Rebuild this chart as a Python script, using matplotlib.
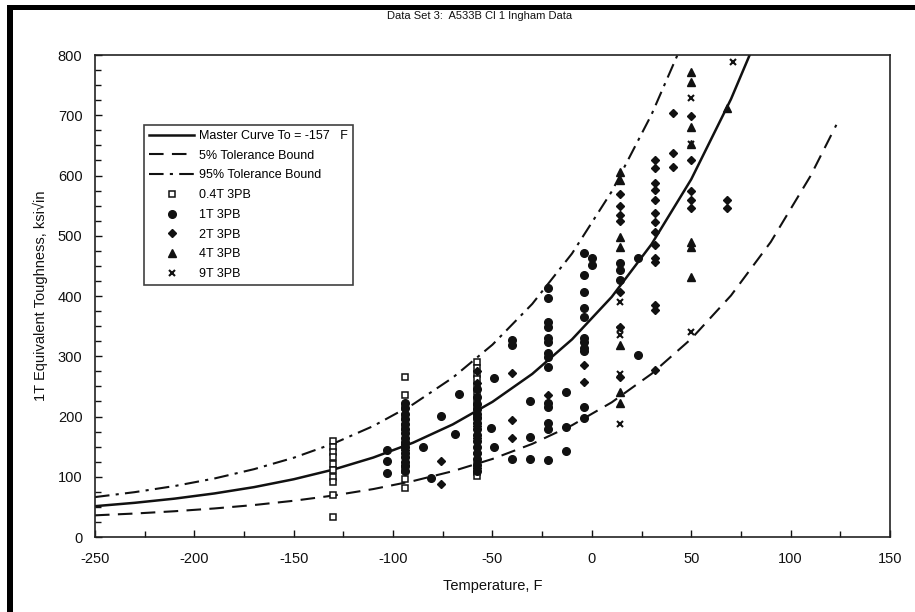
import numpy as np
import matplotlib
matplotlib.use("Agg")
from matplotlib import pyplot as plt
from matplotlib.patches import Rectangle
from matplotlib.ticker import MultipleLocator

plt.rcParams['font.family'] = ['Liberation Sans', 'DejaVu Sans']
plt.rcParams['axes.unicode_minus'] = False

#################
# curve readings #
#################
t_curve = [-250, -230, -210, -190, -170, -150, -130, -110, -90, -70, -50, -30, -10, 10, 30, 50, 70, 80]
k_median = [51.2, 56.8, 63.7, 72.3, 82.8, 95.9, 112.0, 131.9, 156.5, 186.9, 224.4, 270.7, 328.0, 398.6, 485.9, 593.8, 726.9, 804.8]

t_low = [-250, -230, -210, -190, -170, -150, -130, -110, -90, -70, -50, -30, -10, 10, 30, 50, 70, 90, 110, 123]
k_low = [36.0, 39.0, 42.8, 47.4, 53.1, 60.2, 68.9, 79.6, 92.9, 109.3, 129.6, 154.6, 185.5, 223.6, 270.8, 329.0, 400.9, 489.7, 599.3, 684.1]

t_high = [-250, -230, -210, -190, -170, -150, -130, -110, -90, -70, -50, -30, -10, 10, 30, 43]
k_high = [66.3, 74.5, 84.6, 97.1, 112.6, 131.6, 155.2, 184.2, 220.2, 264.5, 319.3, 386.9, 470.5, 573.6, 701.1, 799.6]

###############
# test points #
###############
# 0.4T 3PB
t_04 = [-130]*10 + [-94]*9 + [-58]*12
k_04 = [160, 150, 141, 133, 122, 111, 100, 92, 70, 34,
        266, 235, 216, 200, 183, 150, 111, 97, 81,
        290, 280, 270, 262, 250, 240, 228, 215, 200, 120, 108, 102]

# 1T 3PB
t_1t = ([-103]*3 + [-94]*15 + [-85, -81, -76, -69, -67] + [-58]*15 + [-51, -49, -49]
        + [-40]*3 + [-31]*3 + [-22]*14 + [-13]*3 + [-4]*11 + [0, 0] + [14]*3 + [23, 23])
k_1t = [144, 127, 107,
        222, 214, 205, 196, 188, 180, 172, 165, 158, 150, 140, 132, 125, 118, 110,
        150, 98, 201, 171, 238,
        245, 232, 220, 212, 205, 198, 190, 180, 170, 160, 150, 140, 130, 120, 110,
        181, 264, 150,
        327, 318, 130,
        226, 166, 129,
        413, 396, 357, 349, 330, 324, 305, 299, 283, 222, 216, 189, 180, 128,
        240, 183, 142,
        471, 435, 407, 380, 366, 330, 324, 313, 308, 216, 197,
        463, 452,
        454, 443, 427,
        302, 463]

# 2T 3PB
t_2t = ([-94]*3 + [-76]*2 + [-58]*7 + [-40]*3 + [-22] + [-4]*2 + [14]*7
        + [32]*14 + [41]*3 + [50]*5 + [68]*2)
k_2t = [155, 145, 120,
        127, 88,
        275, 255, 200, 185, 165, 140, 115,
        272, 194, 164,
        235,
        286, 258,
        570, 550, 535, 525, 407, 349, 266,
        626, 612, 587, 576, 559, 538, 523, 506, 485, 463, 456, 385, 377, 277,
        703, 637, 614,
        698, 626, 575, 560, 546,
        559, 546]

# 4T 3PB
t_4t = [14]*7 + [50]*7 + [68]
k_4t = [606, 592, 498, 482, 319, 241, 222,
        772, 756, 681, 653, 490, 482, 432,
        712]

# 9T 3PB
t_9t = [14]*5 + [50]*3 + [71]
k_9t = [390, 345, 335, 270, 188,
        728, 653, 340,
        789]

#################
# plot the data #
#################
fig = plt.figure(figsize=(9.15, 6.12), dpi=100)
ax = fig.add_axes([0.1038, 0.1225, 0.8689, 0.7876])

ink = '#111111'

ax.plot(t_curve, k_median, '-', color=ink, lw=1.8, label='Master Curve To = -157   F')
ax.plot(t_low, k_low, color=ink, lw=1.5, dashes=(7, 4), label='5% Tolerance Bound')
ax.plot(t_high, k_high, color=ink, lw=1.5, dashes=(7, 3, 1.5, 3), label='95% Tolerance Bound')

ax.plot(t_04, k_04, 's', mfc='white', mec=ink, mew=1.1, ms=4.5, label='0.4T 3PB')
ax.plot(t_1t, k_1t, 'o', color=ink, ms=5.5, label='1T 3PB')
ax.plot(t_2t, k_2t, 'D', color=ink, ms=4.5, label='2T 3PB')
ax.plot(t_4t, k_4t, '^', color=ink, ms=6, label='4T 3PB')
ax.plot(t_9t, k_9t, 'x', color=ink, mew=1.5, ms=5, label='9T 3PB')

ax.set_xlim(-250, 150)
ax.set_ylim(0, 800)
ax.xaxis.set_major_locator(MultipleLocator(50))
ax.xaxis.set_minor_locator(MultipleLocator(25))
ax.yaxis.set_major_locator(MultipleLocator(100))
ax.yaxis.set_minor_locator(MultipleLocator(25))
ax.tick_params(which='both', direction='in', top=False, right=False, color=ink, width=1.0)
ax.tick_params(which='major', length=5, labelsize=10.5, labelcolor=ink)
ax.tick_params(which='minor', length=4)
ax.tick_params(axis='x', pad=11)
ax.tick_params(axis='y', pad=9)
for s in ax.spines.values():
    s.set_linewidth(1.2)
    s.set_color('#222222')

ax.set_xlabel('Temperature, F', fontsize=10.5, color=ink, labelpad=9)
ax.set_ylabel('1T Equivalent Toughness, ksi\u221ain', fontsize=10.5, color=ink, labelpad=7)

fig.text(480/915, 1 - 16/612, 'Data Set 3:  A533B Cl 1 Ingham Data', ha='center', va='center', fontsize=8, color=ink)

leg = ax.legend(loc='upper left', bbox_to_anchor=(0.062, 0.855), fontsize=9, frameon=True,
                fancybox=False, edgecolor=ink, handlelength=3.6, handletextpad=0.4,
                labelspacing=0.62, borderpad=0.4, borderaxespad=0)
leg.get_frame().set_linewidth(1.2)

# scanned page border
fig.add_artist(Rectangle((7/915, 0), 6/915, 1 - 5/612, transform=fig.transFigure, color='black', lw=0))
fig.add_artist(Rectangle((7/915, 1 - 10/612), 1, 5/612, transform=fig.transFigure, color='black', lw=0))

fig.savefig('out.png', dpi=100)
